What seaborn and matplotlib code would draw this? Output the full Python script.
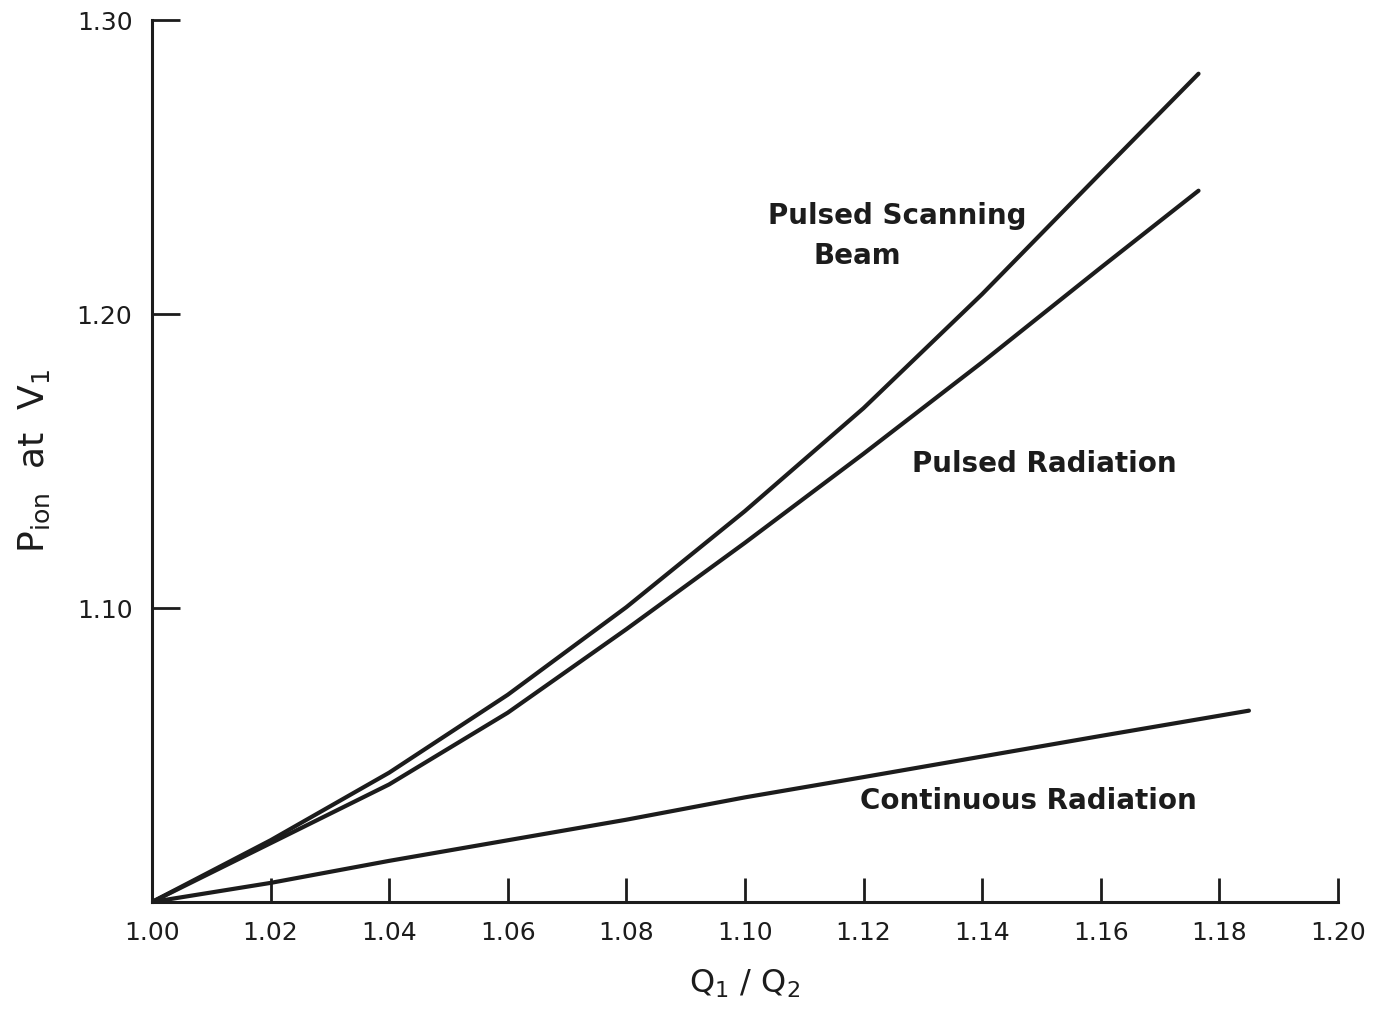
#!/usr/bin/env python3
"""Recreate P_ion vs Q1/Q2 chart."""
import matplotlib
matplotlib.use('Agg')
import matplotlib.pyplot as plt
import seaborn as sns
import pandas as pd

# values
scan_x = [1.00, 1.02, 1.04, 1.06, 1.08, 1.10, 1.12, 1.14, 1.16, 1.1765]
scan_y = [1.000, 1.021, 1.044, 1.0705, 1.1003, 1.133, 1.168, 1.2068, 1.248, 1.2818]

pulsed_x = [1.00, 1.02, 1.04, 1.06, 1.08, 1.10, 1.12, 1.14, 1.16, 1.1765]
pulsed_y = [1.000, 1.020, 1.040, 1.0644, 1.0928, 1.1222, 1.1525, 1.1836, 1.2158, 1.242]

cont_x = [1.00, 1.02, 1.04, 1.06, 1.08, 1.10, 1.12, 1.14, 1.16, 1.185]
cont_y = [1.000, 1.0065, 1.014, 1.021, 1.028, 1.0356, 1.0425, 1.0495, 1.0565, 1.0651]

x_ticks = [1.00, 1.02, 1.04, 1.06, 1.08, 1.10, 1.12, 1.14, 1.16, 1.18, 1.20]
x_tick_labels = ["1.00", "1.02", "1.04", "1.06", "1.08", "1.10", "1.12", "1.14", "1.16", "1.18", "1.20"]
y_ticks = [1.10, 1.20, 1.30]
y_tick_labels = ["1.10", "1.20", "1.30"]

sns.set_theme(style="ticks")
plt.rcParams['font.family'] = ['DejaVu Sans']

frames = [
    pd.DataFrame({"x": scan_x, "y": scan_y, "curve": "scan"}),
    pd.DataFrame({"x": pulsed_x, "y": pulsed_y, "curve": "pulsed"}),
    pd.DataFrame({"x": cont_x, "y": cont_y, "curve": "cont"}),
]

fig = plt.figure(figsize=(13.75, 10.11), dpi=100)
ax = fig.add_axes([0.1105, 0.1078, 0.8625, 0.8722])

for df in frames:
    sns.lineplot(data=df, x="x", y="y", ax=ax, color="#1c1c1c", linewidth=3.0,
                 solid_capstyle="round", legend=False, sort=False)

ax.set_xlim(1.00, 1.20)
ax.set_ylim(1.00, 1.30)
sns.despine(ax=ax)
for s in ["left", "bottom"]:
    ax.spines[s].set_linewidth(2.2)
    ax.spines[s].set_color("#1c1c1c")

ax.set_xticks(x_ticks)
ax.set_xticklabels(x_tick_labels, fontsize=18, color="#1c1c1c")
ax.set_yticks(y_ticks)
ax.set_yticklabels(y_tick_labels, fontsize=18, color="#1c1c1c")
ax.tick_params(axis="x", direction="in", length=17, width=2, pad=14, colors="#1c1c1c")
ax.tick_params(axis="y", direction="in", length=20, width=2, pad=14, colors="#1c1c1c")
for lab in ax.get_xticklabels() + ax.get_yticklabels():
    lab.set_color("#1c1c1c")

ax.set_xlabel(r"Q$_1$ / Q$_2$", fontsize=23, labelpad=16, color="#1c1c1c")
ax.set_ylabel(r"P$_{\mathrm{ion}}$  at  V$_1$", fontsize=26, labelpad=18, color="#1c1c1c")

txt = dict(fontsize=20, fontweight="bold", color="#1c1c1c", ha="center", va="center")
ax.text(1.1257, 1.2335, "Pulsed Scanning", **txt)
ax.text(1.1190, 1.2198, "Beam", **txt)
ax.text(1.1505, 1.1490, "Pulsed Radiation", **txt)
ax.text(1.1478, 1.0343, "Continuous Radiation", **txt)

plt.savefig("out.png", dpi=100)
plt.close()
